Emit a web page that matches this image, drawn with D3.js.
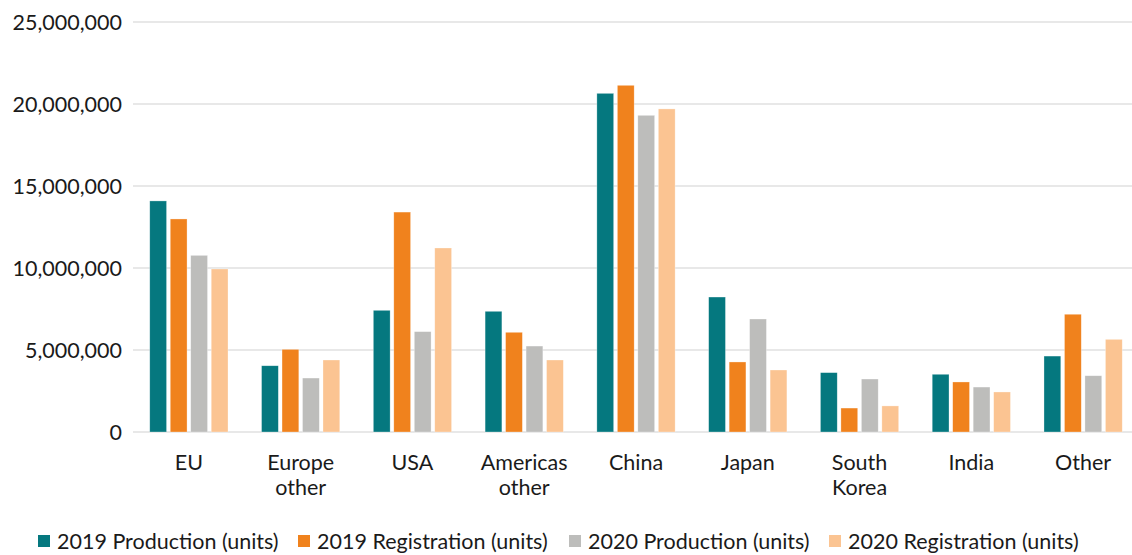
<!DOCTYPE html>
<html lang="en">
<head>
<meta charset="UTF-8">
<title>Production and registration</title>
<style>
  body { margin: 0; background: #fff; }
  text { font-family: Lato, "Open Sans", sans-serif; fill: #1a1a1a; }
</style>
</head>
<body>
<div id="target"></div>
<script src="https://d3js.org/d3.v7.min.js"></script>
<script>
// values
const regions = ["EU", "Europe other", "USA", "Americas other", "China", "Japan", "South Korea", "India", "Other"];
const labelLines = [["EU"], ["Europe", "other"], ["USA"], ["Americas", "other"], ["China"], ["Japan"], ["South", "Korea"], ["India"], ["Other"]];
const seriesNames = ["2019 Production (units)", "2019 Registration (units)", "2020 Production (units)", "2020 Registration (units)"];
const prod2019 = [14090000, 4040000, 7420000, 7360000, 20650000, 8230000, 3620000, 3520000, 4630000];
const reg2019  = [12990000, 5040000, 13410000, 6080000, 21140000, 4270000, 1460000, 3050000, 7180000];
const prod2020 = [10770000, 3290000, 6120000, 5240000, 19310000, 6890000, 3230000, 2740000, 3430000];
const reg2020  = [9940000, 4390000, 11220000, 4390000, 19700000, 3780000, 1590000, 2440000, 5650000];
const yTicks = [0, 5000000, 10000000, 15000000, 20000000, 25000000];
const colors = ["#05787f", "#f0821d", "#bdbdbb", "#fbc492"];

const allSeries = [prod2019, reg2019, prod2020, reg2020];
const width = 1132, height = 555;
const svg = d3.select("#target").append("svg")
    .attr("width", width).attr("height", height);

const x0 = d3.scaleBand().domain(regions).range([133, 1139])
    .paddingInner(0.3).paddingOuter(0.15);
const x1 = d3.scaleBand().domain(d3.range(4)).range([0, x0.bandwidth()]).paddingInner(0.18);
const y = d3.scaleLinear().domain([0, 25000000]).range([432, 22]);

// grid lines
svg.append("g").selectAll("line").data(yTicks).join("line")
    .attr("x1", 133).attr("x2", width)
    .attr("y1", d => y(d)).attr("y2", d => y(d))
    .attr("stroke", "#e0e0e0").attr("stroke-width", 1.5);

// y axis labels
const fmt = d3.format(",");
svg.append("g").selectAll("text").data(yTicks).join("text")
    .attr("x", 122).attr("y", d => y(d))
    .attr("dy", "0.35em")
    .attr("text-anchor", "end")
    .style("font-size", "21.5px")
    .text(d => fmt(d));

// bars
const groups = svg.append("g").selectAll("g").data(regions).join("g")
    .attr("transform", d => `translate(${x0(d)},0)`);
groups.selectAll("rect")
    .data((d, i) => allSeries.map((s, k) => ({ k, v: s[i] })))
    .join("rect")
    .attr("x", d => x1(d.k))
    .attr("width", x1.bandwidth())
    .attr("y", d => y(d.v))
    .attr("height", d => y(0) - y(d.v))
    .attr("fill", d => colors[d.k])
    .attr("stroke", "#fff").attr("stroke-opacity", 0.5).attr("stroke-width", 0.6);

// category labels
const cat = svg.append("g").selectAll("text").data(regions).join("text")
    .attr("x", d => x0(d) + x0.bandwidth() / 2)
    .attr("y", 470)
    .attr("text-anchor", "middle")
    .style("font-size", "21.5px");
cat.selectAll("tspan").data((d, i) => labelLines[i]).join("tspan")
    .attr("x", function () { return d3.select(this.parentNode).attr("x"); })
    .attr("dy", (d, i) => i === 0 ? 0 : 25)
    .text(d => d);

// legend
const legendX = [38, 298, 569, 829];
const lg = svg.append("g").selectAll("g").data(seriesNames).join("g")
    .attr("transform", (d, i) => `translate(${legendX[i]},541)`);
lg.append("rect").attr("x", 0).attr("y", -6).attr("width", 12).attr("height", 12)
    .attr("fill", (d, i) => colors[i]);
lg.append("text").attr("x", 19).attr("dy", "0.35em")
    .style("font-size", "21.5px")
    .text(d => d);
</script>
</body>
</html>
